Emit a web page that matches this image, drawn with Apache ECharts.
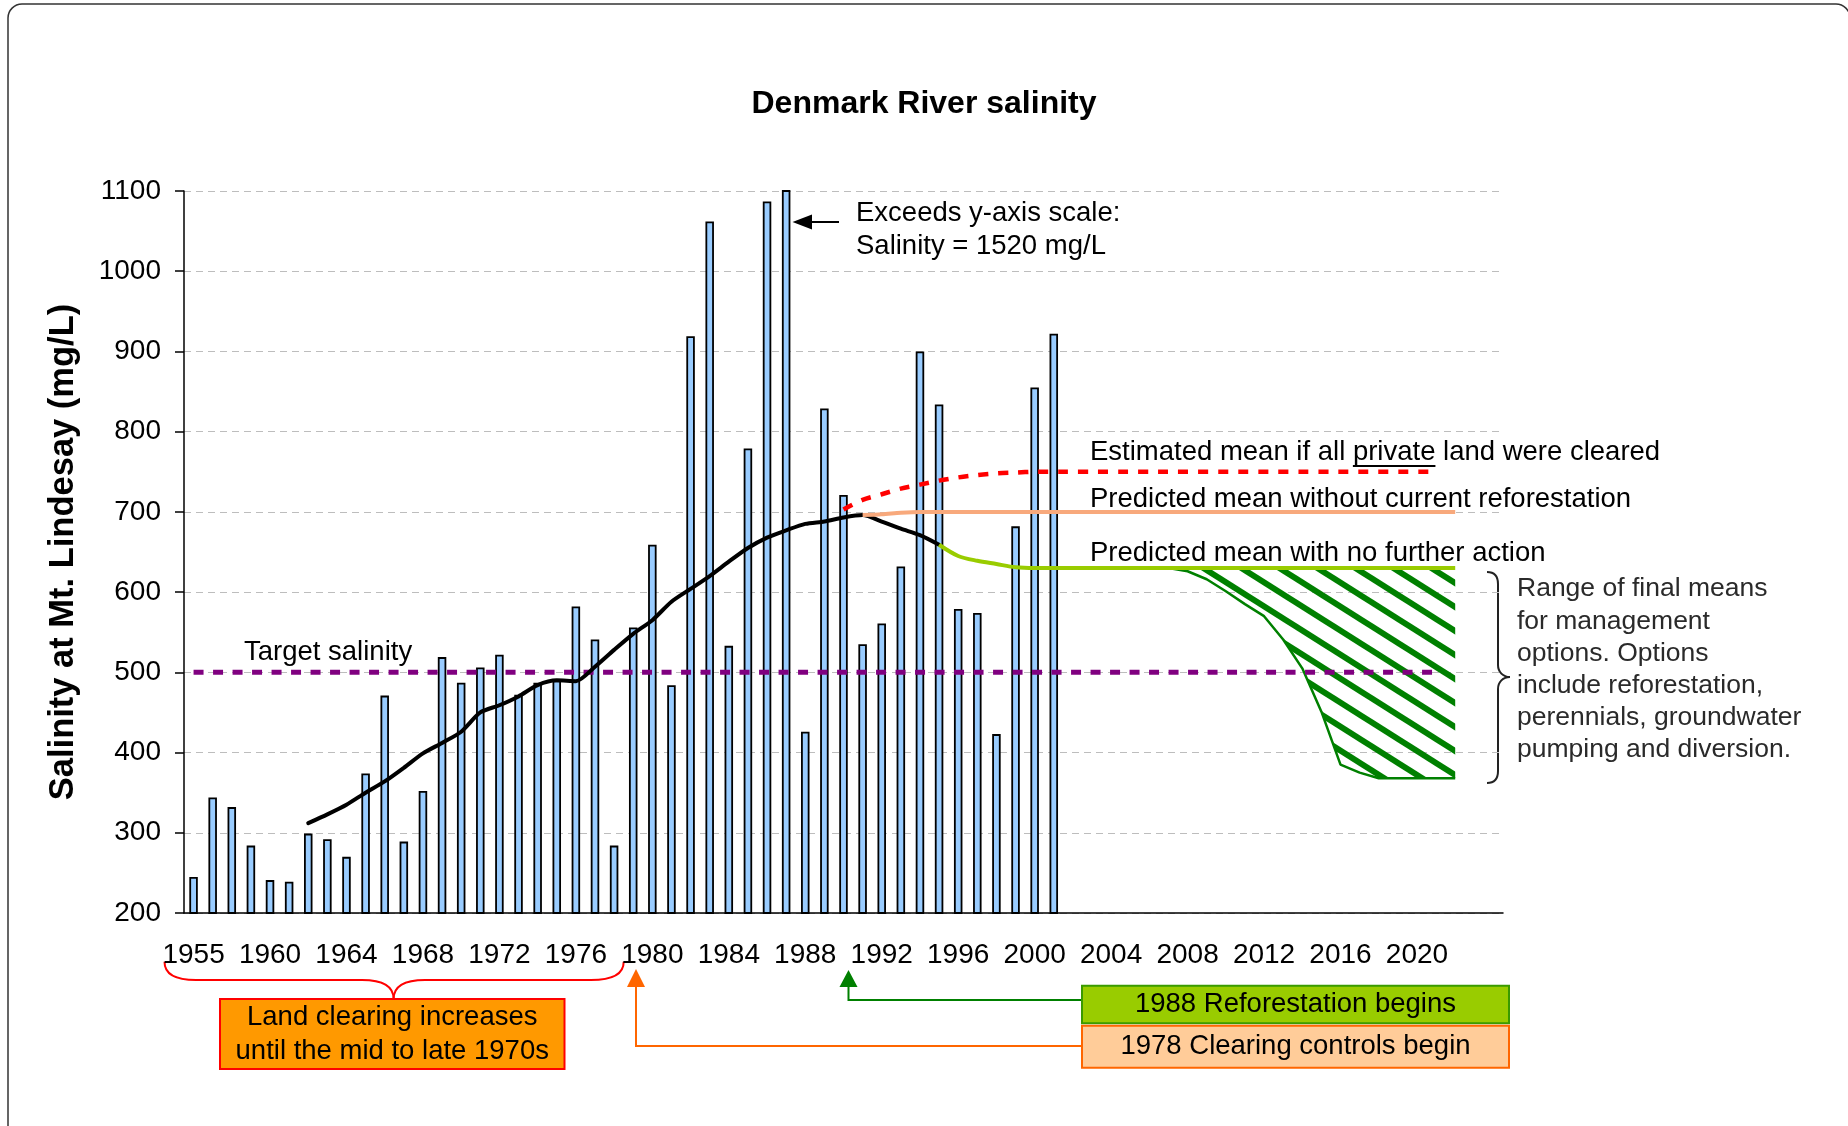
<!DOCTYPE html>
<html>
<head>
<meta charset="utf-8">
<title>Denmark River salinity</title>
<script src="https://cdn.jsdelivr.net/npm/echarts@6/dist/echarts.min.js"></script>
<style>
html, body { margin: 0; padding: 0; background: #fff; }
#chart { width: 1848px; height: 1126px; }
</style>
</head>
<body>
<div id="chart"></div>
<script>
var FONT = '"Liberation Sans", Arial, Helvetica, sans-serif';

// category labels (Excel style axis, one year skipped after 1955)
var years = ['1955', '1957', '1958', '1959', '1960', '1961', '1962', '1963', '1964', '1965',
    '1966', '1967', '1968', '1969', '1970', '1971', '1972', '1973', '1974', '1975',
    '1976', '1977', '1978', '1979', '1980', '1981', '1982', '1983', '1984', '1985',
    '1986', '1987', '1988', '1989', '1990', '1991', '1992', '1993', '1994', '1995',
    '1996', '1997', '1998', '1999', '2000', '2001', '2002', '2003', '2004', '2005',
    '2006', '2007', '2008', '2009', '2010', '2011', '2012', '2013', '2014', '2015',
    '2016', '2017', '2018', '2019', '2020', '2021', '2022', '2023', '2024'];

// annual salinity (mg/L), 1955 .. 2001
var salinity = [245, 344, 332, 284, 241, 239, 299, 292, 270, 374,
    471, 289, 352, 519, 487, 506, 522, 472, 487, 490,
    582, 541, 284, 556, 659, 484, 919, 1062, 533, 779,
    1087, 1520, 426, 829, 721, 535, 561, 632, 900, 834,
    579, 574, 423, 682, 855, 922];

// running mean, starts at 1962
var meanStart = '1962';
var meanValues = [312, 323, 335, 350, 364, 381, 399, 412, 426, 450,
    459, 470, 484, 490, 489, 507, 528, 548, 565, 588,
    604, 620, 638, 655, 668, 677, 685, 688, 693, 696,
    688, 679, 671, 659];

var noActionLine = [['1995', 659], ['1996', 645], ['1997', 639], ['1998', 635], ['1999', 631], ['2000', 630], ['2022', 630]];
var noReforestLine = [['1991', 696], ['1992', 697], ['1993', 699], ['1994', 700], ['2022', 700]];
var clearedLine = [['1990', 703], ['1991', 715], ['1992', 722], ['1993', 729], ['1994', 734], ['1995', 739],
    ['1996', 743], ['1997', 746], ['1998', 748], ['1999', 749], ['2000', 750], ['2021', 750]];
var targetLine = [['1955', 500], ['2021', 500]];

// range of final means (hatched), 2007 .. 2022
var rangeStart = '2007';
var rangeHigh = [630, 630, 630, 630, 630, 630, 630, 630, 630, 630, 630, 630, 630, 630, 630, 630];
var rangeLow = [630, 626, 616, 601, 585, 570, 541, 505, 451, 385, 375, 368, 368, 368, 368, 368];

function padded(start, values) {
    var out = years.map(function () { return null; });
    var s = years.indexOf(start);
    values.forEach(function (v, i) { out[s + i] = v; });
    return out;
}

var rangeSpan = rangeHigh.map(function (h, i) { return h - rangeLow[i]; });

function hatchPattern() {
    var W = 38, H = 24;
    var c = document.createElement('canvas');
    c.width = W; c.height = H;
    var g = c.getContext('2d');
    g.strokeStyle = '#008000';
    g.lineWidth = 6;
    [-W, 0, W].forEach(function (dx) {
        g.beginPath();
        g.moveTo(dx - W, -H);
        g.lineTo(dx + 2 * W, 2 * H);
        g.stroke();
    });
    return c;
}

// width of text bits, for the underline under "private"
var mctx = document.createElement('canvas').getContext('2d');
mctx.font = '27.5px ' + FONT;
var preW = mctx.measureText('Estimated mean if all ').width;
var privW = mctx.measureText('private').width;

function txt(x, y, text, extra) {
    var st = {
        text: text, fill: '#000', fontSize: 27.5, fontFamily: FONT,
        align: 'left', verticalAlign: 'middle', textAlign: 'left', textVerticalAlign: 'middle'
    };
    for (var k in extra) st[k] = extra[k];
    return { type: 'text', x: x, y: y, silent: true, style: st };
}
function seg(points, color, w) {
    return { type: 'polyline', silent: true, shape: { points: points }, style: { stroke: color, lineWidth: w, fill: null } };
}
function tri(points, color) {
    return { type: 'polygon', silent: true, shape: { points: points }, style: { fill: color } };
}
function curve(x1, y1, c1x, c1y, c2x, c2y, x2, y2, color) {
    return { type: 'bezierCurve', silent: true,
        shape: { x1: x1, y1: y1, cpx1: c1x, cpy1: c1y, cpx2: c2x, cpy2: c2y, x2: x2, y2: y2 },
        style: { stroke: color, lineWidth: 2, fill: null } };
}
function box(x, y, w, h, fill, stroke, text, lh) {
    return [
        { type: 'rect', silent: true, shape: { x: x, y: y, width: w, height: h }, style: { fill: fill, stroke: stroke, lineWidth: 2 } },
        { type: 'text', silent: true, x: x + w / 2, y: y + h / 2,
          style: { text: text, fill: '#000', fontSize: 27.5, fontFamily: FONT, lineHeight: lh,
                   align: 'center', verticalAlign: 'middle', textAlign: 'center', textVerticalAlign: 'middle' } }
    ];
}

var graphics = [
    { type: 'rect', silent: true, shape: { x: 8, y: 4, width: 1842, height: 1200, r: [14, 14, 0, 0] },
      style: { fill: null, stroke: '#333', lineWidth: 1.5 } },
    { type: 'text', silent: true, x: 63, y: 552, rotation: Math.PI / 2,
      style: { text: 'Salinity at Mt. Lindesay (mg/L)', fill: '#000', fontSize: 34.5, fontWeight: 'bold', fontFamily: FONT,
               align: 'center', verticalAlign: 'middle', textAlign: 'center', textVerticalAlign: 'middle' } },
    txt(244, 652.5, 'Target salinity'),
    txt(856, 230, 'Exceeds y-axis scale:\nSalinity = 1520 mg/L', { lineHeight: 33 }),
    seg([[839, 222], [808, 222]], '#000', 2),
    tri([[792.5, 222], [812, 214.5], [812, 229.5]], '#000'),
    txt(1090, 452.5, 'Estimated mean if all private land were cleared'),
    seg([[1090 + preW, 466], [1090 + preW + privW, 466]], '#000', 2),
    txt(1090, 499, 'Predicted mean without current reforestation'),
    txt(1090, 553, 'Predicted mean with no further action'),
    txt(1517, 669.5, 'Range of final means\nfor management\noptions. Options\ninclude reforestation,\nperennials, groundwater\npumping and diversion.',
        { lineHeight: 32.2, fill: '#2a2a2a', fontSize: 26.5 }),
    // right brace
    curve(1487, 572, 1495, 572, 1498, 576, 1498, 584, '#222'),
    seg([[1498, 584], [1498, 665]], '#222', 2),
    curve(1498, 665, 1498, 672, 1503, 677, 1510, 677, '#222'),
    curve(1510, 677, 1503, 677, 1498, 682, 1498, 689, '#222'),
    seg([[1498, 689], [1498, 771]], '#222', 2),
    curve(1498, 771, 1498, 779, 1495, 783, 1487, 783, '#222'),
    // red brace under the 1955-1976 labels
    curve(164.5, 961.7, 164.5, 975, 178, 980, 196, 980, '#FF0000'),
    seg([[196, 980], [362, 980]], '#FF0000', 2),
    curve(362, 980, 385, 980, 393.6, 988, 393.6, 999, '#FF0000'),
    curve(393.6, 999, 393.6, 988, 402, 980, 425, 980, '#FF0000'),
    seg([[425, 980], [591, 980]], '#FF0000', 2),
    curve(591, 980, 610, 980, 623.7, 975, 623.7, 961.7, '#FF0000'),
    // arrows to the axis
    seg([[1082, 1046], [636, 1046], [636, 986]], '#FF6600', 2),
    tri([[636, 969], [627, 987], [645, 987]], '#FF6600'),
    seg([[1082, 1000], [848.5, 1000], [848.5, 986]], '#008000', 2),
    tri([[848.5, 970], [839.5, 987], [857.5, 987]], '#008000')
].concat(
    box(220, 999, 344.5, 70, '#FF9900', '#FF0000', 'Land clearing increases\nuntil the mid to late 1970s', 34),
    box(1082, 985.7, 427, 37.6, '#99CC00', '#3A9A00', '1988 Reforestation begins', 30),
    box(1082, 1025.7, 427, 42, '#FFCC99', '#FF6600', '1978 Clearing controls begin', 30)
);

var chart = echarts.init(document.getElementById('chart'));

var option = {
    animation: false,
    textStyle: { fontFamily: FONT },
    title: {
        text: 'Denmark River salinity',
        left: 'center',
        top: 88,
        padding: 0,
        textStyle: { fontSize: 32, fontWeight: 'bold', color: '#000', fontFamily: FONT }
    },
    grid: { left: 184, top: 191, right: 345, bottom: 213 },
    xAxis: {
        type: 'category',
        data: years,
        boundaryGap: true,
        axisLine: { lineStyle: { color: '#000', width: 1.5 } },
        axisTick: { interval: 3, length: 9, lineStyle: { color: '#000', width: 1.5 } },
        axisLabel: {
            interval: function (i) { return i % 4 === 0 && i <= 64; },
            margin: 28,
            fontSize: 28,
            color: '#000'
        },
        splitLine: { show: false }
    },
    yAxis: {
        type: 'value',
        min: 200,
        max: 1100,
        interval: 100,
        axisLine: { show: true, lineStyle: { color: '#000', width: 1.5 } },
        axisTick: { show: true, length: 9, lineStyle: { color: '#000', width: 1.5 } },
        axisLabel: { margin: 23, fontSize: 28, color: '#000', formatter: function (v) { return String(v); } },
        splitLine: { lineStyle: { color: '#BDBDBD', type: [7, 5], width: 1 } }
    },
    series: [
        {
            name: 'Salinity',
            type: 'bar',
            data: salinity,
            barWidth: 8.5,
            itemStyle: { color: '#99CCFF', borderColor: '#000', borderWidth: 1.8 },
            z: 2
        },
        {
            name: 'Range low',
            type: 'line',
            stack: 'range',
            data: padded(rangeStart, rangeLow),
            symbol: 'none',
            lineStyle: { color: '#008000', width: 2.5 },
            z: 3
        },
        {
            name: 'Range',
            type: 'line',
            stack: 'range',
            data: padded(rangeStart, rangeSpan),
            symbol: 'none',
            lineStyle: { width: 0, opacity: 0 },
            areaStyle: { color: { image: hatchPattern(), repeat: 'repeat' }, opacity: 1 },
            z: 3
        },
        {
            name: 'Target salinity',
            type: 'line',
            data: targetLine,
            symbol: 'none',
            lineStyle: { color: '#800080', width: 5, type: [10, 9.5] },
            z: 4
        },
        {
            name: 'Mean',
            type: 'line',
            data: padded(meanStart, meanValues),
            symbol: 'none',
            smooth: 0.25,
            lineStyle: { color: '#000', width: 4, cap: 'round' },
            z: 5
        },
        {
            name: 'All private land cleared',
            type: 'line',
            data: clearedLine,
            symbol: 'none',
            smooth: 0.3,
            lineStyle: { color: '#FF0000', width: 4.5, type: [10, 10] },
            z: 5
        },
        {
            name: 'Without current reforestation',
            type: 'line',
            data: noReforestLine,
            symbol: 'none',
            smooth: 0.3,
            lineStyle: { color: '#F8A97C', width: 4 },
            z: 5
        },
        {
            name: 'No further action',
            type: 'line',
            data: noActionLine,
            symbol: 'none',
            smooth: 0.3,
            lineStyle: { color: '#99CC00', width: 4 },
            z: 5
        }
    ],
    graphic: graphics
};
chart.setOption(option);
</script>
</body>
</html>
